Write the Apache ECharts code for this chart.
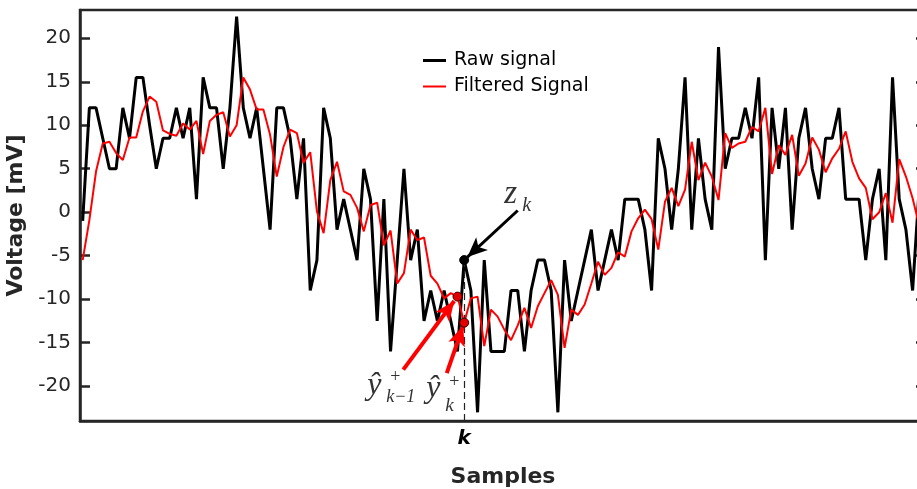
<!DOCTYPE html>
<html>
<head>
<meta charset="utf-8">
<script src="https://cdn.jsdelivr.net/npm/echarts@6.0.0/dist/echarts.min.js"></script>
<style>
  html, body { margin: 0; padding: 0; background: #fff; overflow: hidden; }
  #chart { width: 917px; height: 489px; }
</style>
</head>
<body>
<div id="chart"></div>
<script>
// raw samples (quantised measurements), index = sample number
const rawSignal = [
  -1, 12, 12, 8.5, 5, 5, 12, 8.5, 15.5, 15.5,
  10, 5, 8.5, 8.5, 12, 8.5, 12, 1.5, 15.5, 12,
  12, 5, 12, 22.5, 12, 8.5, 12, 5, -2, 12,
  12, 8.5, 1.5, 8.5, -9, -5.5, 12, 8.5, -2, 1.5,
  -2, -5.5, 5, 1.5, -12.5, 1.5, -16, -5.5, 5, -5.5,
  -2, -12.5, -9, -12.5, -9, -12.5, -16, -5.5, -9, -23,
  -5.5, -16, -16, -16, -9, -9, -16, -9, -5.5, -5.5,
  -9, -23, -5.5, -12.5, -9, -5.5, -2, -9, -5.5, -2,
  -5.5, 1.5, 1.5, 1.5, -2, -9, 8.5, 5, -2, 5,
  15.5, -2, 8.5, 1.5, -2, 19, 5, 8.5, 8.5, 12,
  8.5, 15.5, -5.5, 12, 5, 12, -2, 8.5, 12, 5,
  1.5, 8.5, 8.5, 12, 1.5, 1.5, 1.5, -5.5, 1.5, 5,
  -5.5, 15.5, 1.5, -2, -9, 3, 6
];

// filtered estimate
const filteredSignal = [
  -5.5, -0.9, 4.7, 7.9, 8.1, 6.8, 6.0, 8.6, 8.6, 11.6,
  13.3, 12.7, 9.4, 9.0, 8.8, 10.2, 9.5, 10.5, 6.7, 10.5,
  11.2, 11.5, 8.7, 10.0, 15.5, 14.1, 11.8, 11.8, 8.9, 4.1,
  7.5, 9.5, 9.1, 5.7, 6.9, 0.1, -2.4, 3.7, 5.8, 2.4,
  2.0, 0.5, -2.2, 0.8, 1.1, -3.8, -2.1, -8.2, -7.0, -2.0,
  -3.2, -2.9, -7.3, -8.2, -9.9, -9.3, -9.7, -12.7, -9.9, -9.7,
  -15.4, -11.2, -12.0, -13.5, -14.7, -13.0, -11.0, -13.3, -10.8, -9.3,
  -7.8, -9.5, -15.6, -11.2, -11.8, -10.6, -8.2, -5.7, -7.2, -6.4,
  -4.6, -5.1, -2.2, -0.7, 0.3, -0.8, -4.3, 1.2, 2.8, 0.7,
  2.6, 8.1, 3.7, 5.7, 4.1, 1.4, 9.1, 7.4, 7.9, 8.1,
  9.8, 9.3, 12.0, 4.4, 7.7, 6.6, 8.9, 4.2, 5.6, 8.6,
  7.2, 4.6, 6.2, 7.3, 9.3, 5.8, 3.9, 2.8, -0.8, 0,
  2.2, -1.2, 6.1, 4.1, 1.6, -1.6, -2.5
];

const yTicks = [-20, -15, -10, -5, 0, 5, 10, 15, 20];
const kIndex = 57;   // the marked sample "k"

const axisColor = '#262626';
const sans = '"DejaVu Sans", "Liberation Sans", Arial, sans-serif';
const serif = '"Liberation Serif", "DejaVu Serif", "Times New Roman", serif';

const toPairs = arr => arr.map((v, i) => [i, v]);

// arrow from a tail offset to a point, stopping just short of the dot
function arrow(tip, dx, dy, color, width) {
  const tail = [tip[0] + dx, tip[1] + dy];
  const end = [tip[0] + dx * 0.06, tip[1] + dy * 0.06];
  return [
    { coord: tail, symbol: 'none', lineStyle: { color: color, width: width, type: 'solid' } },
    { coord: end, symbol: 'arrow', symbolSize: [13, 20] }
  ];
}

const zPoint = [kIndex, rawSignal[kIndex]];
const yPrevPoint = [kIndex - 1, filteredSignal[kIndex - 1]];
const yPoint = [kIndex, filteredSignal[kIndex]];

const chart = echarts.init(document.getElementById('chart'), null, { renderer: 'canvas' });

chart.setOption({
  animation: false,
  backgroundColor: '#fff',
  grid: {
    left: 80, top: 10, width: 846, height: 411,
    outerBoundsMode: 'none',
    containLabel: false,
    show: true, borderColor: axisColor, borderWidth: 2.5
  },
  legend: {
    orient: 'vertical',
    left: 423, top: 51,
    padding: 0,
    itemWidth: 23, itemHeight: 12, itemGap: 7,
    textStyle: { fontFamily: sans, fontSize: 19, color: '#000', padding: [0, 0, 0, 3] },
    data: [
      { name: 'Raw signal', icon: 'path://M0,0H23V3H0Z' },
      { name: 'Filtered Signal', icon: 'path://M0,0H23V2H0Z' }
    ]
  },
  xAxis: {
    type: 'value',
    min: -0.4, max: 126,
    name: 'Samples',
    nameLocation: 'middle',
    nameGap: 45,
    nameTextStyle: { fontFamily: sans, fontSize: 22, fontWeight: 'bold', color: axisColor },
    axisLine: { onZero: false, lineStyle: { color: axisColor, width: 2.5 } },
    axisTick: { show: false },
    axisLabel: {
      customValues: [kIndex],
      formatter: () => 'k',
      margin: 8,
      fontFamily: sans, fontSize: 20, fontWeight: 'bold', fontStyle: 'italic', color: '#000'
    },
    splitLine: { show: false }
  },
  yAxis: [
    {
      type: 'value',
      min: -24, max: 23.25,
      name: 'Voltage [mV]',
      nameLocation: 'middle',
      nameGap: 45,
      nameTextStyle: { fontFamily: sans, fontSize: 22, fontWeight: 'bold', color: axisColor },
      axisLine: { show: true, onZero: false, lineStyle: { color: axisColor, width: 2.5 } },
      axisTick: { show: true, inside: true, length: 10, customValues: yTicks,
                  lineStyle: { color: axisColor, width: 2.5 } },
      axisLabel: { customValues: yTicks, margin: 9, fontFamily: sans, fontSize: 20, color: axisColor },
      splitLine: { show: false }
    },
    {
      type: 'value',
      position: 'right',
      min: -24, max: 23.25,
      axisLine: { show: true, onZero: false, lineStyle: { color: axisColor, width: 2.5 } },
      axisTick: { show: true, inside: true, length: 10, customValues: yTicks,
                  lineStyle: { color: axisColor, width: 2.5 } },
      axisLabel: { show: false },
      splitLine: { show: false }
    }
  ],
  series: [
    {
      name: 'Raw signal',
      type: 'line',
      data: toPairs(rawSignal),
      symbol: 'none',
      color: '#000',
      lineStyle: { color: '#000', width: 3 }
    },
    {
      name: 'Filtered Signal',
      type: 'line',
      data: toPairs(filteredSignal),
      symbol: 'none',
      color: '#ff0000',
      lineStyle: { color: '#ff0000', width: 2 },
      markLine: {
        silent: true,
        animation: false,
        label: { show: false },
        emphasis: { disabled: true },
        data: [
          [
            { coord: zPoint, symbol: 'none', lineStyle: { color: '#222', width: 1.2, type: [7, 4] } },
            { coord: [kIndex, -24], symbol: 'none' }
          ],
          arrow(zPoint, 8.0, 5.7, '#000', 3),
          arrow(yPrevPoint, -8.1, -8.4, '#ff0000', 4),
          arrow(yPoint, -2.6, -5.8, '#ff0000', 4)
        ]
      },
      markPoint: {
        silent: true,
        animation: false,
        label: { show: false },
        data: [
          { coord: zPoint, symbol: 'circle', symbolSize: 9,
            itemStyle: { color: '#000', borderColor: '#000', borderWidth: 1 } },
          { coord: yPrevPoint, symbol: 'circle', symbolSize: 9,
            itemStyle: { color: '#e00000', borderColor: '#400', borderWidth: 1 } },
          { coord: yPoint, symbol: 'circle', symbolSize: 9,
            itemStyle: { color: '#e00000', borderColor: '#400', borderWidth: 1 } }
        ]
      }
    }
  ]
});

// math-style labels placed relative to the marked sample
const p = chart.convertToPixel({ gridIndex: 0 }, zPoint);
function mathText(dx, dy, text, size, italic) {
  return {
    type: 'text',
    x: p[0] + dx, y: p[1] + dy,
    silent: true,
    style: {
      text: text, fill: '#333',
      fontFamily: serif, fontSize: size, fontStyle: italic ? 'italic' : 'normal',
      align: 'left', verticalAlign: 'middle'
    }
  };
}
chart.setOption({
  graphic: [
    mathText(40, -66, 'z', 33, true),
    mathText(58, -54, 'k', 20, true),
    mathText(-97, 126, 'ŷ', 32, true),
    mathText(-74, 117, '+', 18, false),
    mathText(-78, 137, 'k\u22121', 18, true),
    mathText(-38, 129, 'ŷ', 32, true),
    mathText(-15, 122, '+', 18, false),
    mathText(-19, 146, 'k', 19, true)
  ]
});
</script>
</body>
</html>
